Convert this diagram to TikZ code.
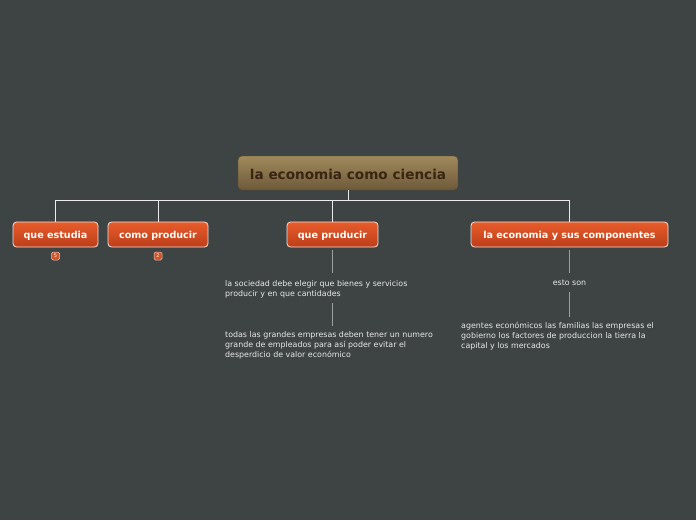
\documentclass[tikz,border=0pt]{standalone}
\usepackage{fontspec}
\setmainfont{DejaVu Sans}
\usetikzlibrary{calc}
\definecolor{bg}{HTML}{3E4444}
\definecolor{roottop}{HTML}{A08A5C}
\definecolor{rootbot}{HTML}{6E593A}
\definecolor{roottext}{HTML}{3A2412}
\definecolor{ortop}{HTML}{E85C2A}
\definecolor{orbot}{HTML}{BC3E1A}
\definecolor{subline}{HTML}{9A9E9E}
\definecolor{subtext}{HTML}{E8E8E8}
\tikzset{
  rootbox/.style={draw=rootbot!80!black, line width=0.4pt, rounded corners=4pt, top color=roottop, bottom color=rootbot,
    text=roottext, font=\bfseries\fontsize{13.6}{15}\selectfont, minimum width=220pt, minimum height=34pt, inner sep=0pt,
    text height=12.5pt, text depth=0pt},
  topicbox/.style={draw=white!85!orbot, line width=0.8pt, rounded corners=3.5pt, top color=ortop, bottom color=orbot,
    text=white, font=\bfseries\fontsize{9.6}{11}\selectfont, minimum height=25pt, inner sep=0pt,
    text height=8pt, text depth=0pt},
  badge/.style={draw=white!70!orbot, line width=0.5pt, rounded corners=1.5pt, fill=ortop!90!black,
    text=white, font=\fontsize{5}{5}\selectfont, minimum width=8pt, minimum height=8pt, inner sep=0pt},
  subtxt/.style={text=subtext, font=\fontsize{7.9}{10}\selectfont, inner sep=0pt, align=left},
  mainline/.style={draw=white!90!bg, line width=0.9pt},
  sline/.style={draw=subline, line width=1.1pt},
}
\begin{document}
\begin{tikzpicture}[x=1pt,y=-1pt]
\useasboundingbox[fill=bg] (0,0) rectangle (696,520);
\node[rootbox] (root) at (348,173) {la economia como ciencia};
\node[topicbox, minimum width=85pt] (c1) at (55.5,234.5) {que estudia};
\node[topicbox, minimum width=100pt] (c2) at (158,234.5) {como producir};
\node[topicbox, minimum width=91pt] (c3) at (332.5,234.5) {que pruducir};
\node[topicbox, minimum width=197pt] (c4) at (569.5,234.5) {la economia y sus componentes};
\node[badge] (b1) at (55.5,256) {5};
\node[badge] (b2) at (158,256) {2};
\coordinate (bus) at (348,200.5);
\draw[mainline] (root.south) -- (bus);
\draw[mainline] (bus) -| (c1.north);
\draw[mainline] (bus) -| (c2.north);
\draw[mainline] (bus) -| (c3.north);
\draw[mainline] (bus) -| (c4.north);
\node[subtxt, anchor=north west] (t1) at (225,280) {la sociedad debe elegir que bienes y servicios\\producir y en que cantidades};
\node[subtxt, anchor=north west] (t2) at (225,331) {todas las grandes empresas deben tener un numero\\grande de empleados para así poder evitar el\\desperdicio de valor económico};
\node[subtxt, anchor=north] (t3) at (569.5,280) {esto son};
\node[subtxt, anchor=north west] (t4) at (461,321.5) {agentes económicos las familias las empresas el\\gobierno los factores de produccion la tierra la\\capital y los mercados};
\draw[sline] (c3.south |- 0,250) -- (c3.south |- 0,273);
\draw[sline] (c3.south |- 0,303) -- (c3.south |- 0,326);
\draw[sline] (c4.south |- 0,250) -- (c4.south |- 0,273);
\draw[sline] (c4.south |- 0,292) -- (c4.south |- 0,317);
\end{tikzpicture}
\end{document}
